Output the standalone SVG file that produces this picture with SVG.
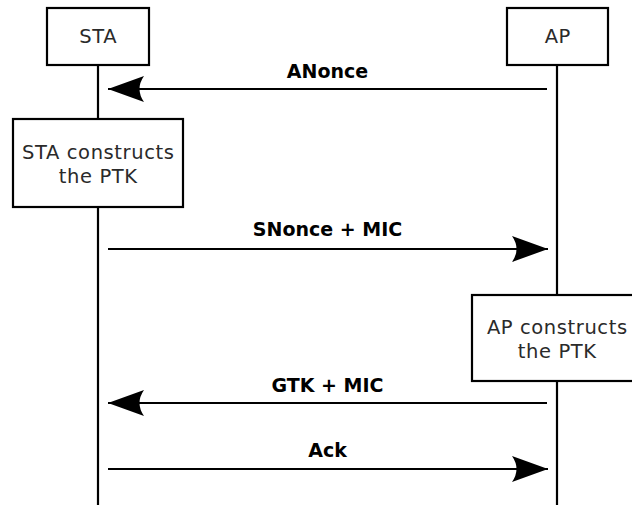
<svg xmlns="http://www.w3.org/2000/svg" width="632" height="507" viewBox="0 0 632 507">
<style>
.box{fill:#fff;stroke:#000;stroke-width:2.2}
.life{stroke:#000;stroke-width:2.2;fill:none}
.msg{stroke:#000;stroke-width:2.2;fill:none;marker-end:url(#ah)}
.t{font-family:"DejaVu Sans",sans-serif;font-size:19.5px;letter-spacing:0.6px;fill:#2a2a2a;text-anchor:middle}
.lbl{font-family:"DejaVu Sans",sans-serif;font-size:19px;font-weight:bold;fill:#000;text-anchor:middle}
</style>
<defs>
<marker id="ah" viewBox="0 0 36 26" refX="36" refY="13" markerWidth="36" markerHeight="26" markerUnits="userSpaceOnUse" orient="auto">
<path d="M36,13 L0,0 Q9,13 0,26 Z" fill="#000"/>
</marker>
</defs>
<g id="lifelines">
<line class="life" x1="98" y1="65" x2="98" y2="505"/>
<line class="life" x1="557" y1="65" x2="557" y2="505"/>
</g>
<g id="sta">
<rect class="box" x="47" y="8" width="102" height="57"/>
<text class="t" x="98.3" y="43">STA</text>
</g>
<g id="ap">
<rect class="box" x="507" y="8" width="101" height="57"/>
<text class="t" x="557.8" y="43">AP</text>
</g>
<g id="sta-ptk">
<rect class="box" x="13" y="119" width="170" height="88"/>
<text class="t" x="98.3" y="159">STA constructs</text>
<text class="t" x="98.3" y="183">the PTK</text>
</g>
<g id="ap-ptk">
<rect class="box" x="472" y="295" width="170" height="86"/>
<text class="t" x="557.3" y="334">AP constructs</text>
<text class="t" x="557.3" y="358">the PTK</text>
</g>
<g id="connectors">
<line class="msg" x1="547" y1="89" x2="108" y2="89"/>
<text class="lbl" x="327.5" y="78">ANonce</text>
<line class="msg" x1="108" y1="249" x2="548" y2="249"/>
<text class="lbl" x="327.5" y="236">SNonce + MIC</text>
<line class="msg" x1="547" y1="403" x2="108" y2="403"/>
<text class="lbl" x="327.5" y="392">GTK + MIC</text>
<line class="msg" x1="108" y1="469" x2="548" y2="469"/>
<text class="lbl" x="327.5" y="457">Ack</text>
</g>
</svg>
